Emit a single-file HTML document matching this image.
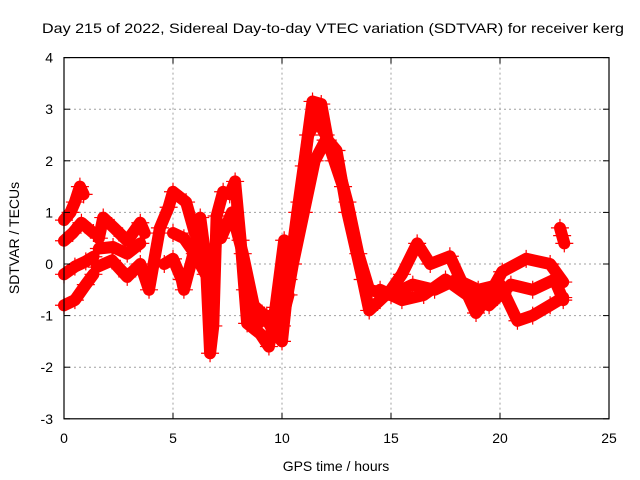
<!DOCTYPE html>
<html><head><meta charset="utf-8"><style>
body{margin:0;background:#fff}
svg{display:block;font-family:"Liberation Sans",sans-serif}
</style></head><body>
<svg id="chart" width="640" height="480" viewBox="0 0 640 480">
<rect width="640" height="480" fill="#fff"/>
<text x="333" y="33" font-size="14" text-anchor="middle" textLength="582" lengthAdjust="spacingAndGlyphs">Day 215 of 2022, Sidereal Day-to-day VTEC variation (SDTVAR) for receiver kerg</text>
<g id="grid"></g>
<g id="series"></g>
<g id="axes"></g>
<text x="336" y="471" font-size="14" text-anchor="middle">GPS time / hours</text>
<text transform="translate(19,238) rotate(-90)" font-size="14" text-anchor="middle">SDTVAR / TECUs</text>
</svg>
<script>
const xTicks=[0,5,10,15,20,25];
const yTicks=[-3,-2,-1,0,1,2,3,4];
const t1=[0,0.3,0.5,0.73,0.9], v1=[0.85,1.0,1.2,1.5,1.35];
const t2=[0,0.4,0.8,1.35], v2=[0.45,0.6,0.8,0.6];
const t3=[0,0.5,1.0,1.35], v3=[-0.2,-0.05,0.05,0.14];
const t4=[0,0.5,1.0,1.35], v4=[-0.8,-0.7,-0.4,-0.2];
const t5=[1.6,1.8,2.3,2.9,3.5,3.7], v5=[0.5,0.9,0.7,0.45,0.8,0.6];
const t6=[1.6,2.25,2.9,3.5], v6=[0.3,0.33,0.2,0.4];
const t7=[1.5,2.2,2.9,3.5,3.9,4.4,4.8,5.0,5.6,6.0], v7=[-0.06,0.07,-0.25,0.0,-0.5,0.7,1.1,1.4,1.2,0.6];
const t8=[4.6,5.0,5.4,5.5,6.0,6.25,6.5,6.7,6.85,7.0,7.3,7.6,7.85,8.1,8.4,9.0,9.4,9.7,10.1];
const v8=[0.0,0.1,-0.3,-0.5,0.3,0.9,0.1,-1.73,-1.2,0.93,1.4,1.35,1.6,0.46,-1.15,-1.35,-1.6,-0.84,0.46];
const t9=[7.2,7.7,8.2,8.7,9.2,9.6,10.0,10.3,10.7,11.0,11.4,11.8,12.1,12.5,13.0,13.7,14.0,14.5,15.0,15.5,16.2,16.8,17.7,18.3,18.9,19.5,20.1,21.2,22.3,22.9];
const v9=[0.5,1.0,0.2,-0.8,-1.0,-1.3,-1.5,-0.3,1.0,1.9,3.15,3.1,2.4,2.2,1.0,-0.3,-0.9,-0.7,-0.5,-0.2,0.4,0.0,0.15,-0.4,-0.95,-0.6,-0.15,0.1,0.0,-0.35];
const t10=[10.0,10.5,11.0,11.5,12.0,12.5,13.0,13.5,14.0,15.0,16.0,17.0,18.0,19.0,20.0,20.8,21.5,22.3,22.9];
const v10=[-1.2,0.0,1.0,2.0,2.4,2.0,1.2,0.2,-0.5,-0.6,-0.4,-0.5,-0.3,-0.5,-0.4,-1.1,-1.0,-0.8,-0.65];
const t11=[14.5,15.5,16.5,17.5,18.5,19.5,20.5,21.5,22.5,22.9], v11=[-0.5,-0.7,-0.6,-0.3,-0.6,-0.8,-0.4,-0.5,-0.3,-0.7];
const t12=[22.75,22.85,22.95], v12=[0.7,0.55,0.4];
const t13=[8.3,8.8,9.3,9.8,10.3], v13=[-0.5,-1.2,-1.0,-1.4,-0.6];
const t14=[10.8,11.2,11.6,12.0,12.4,12.8], v14=[1.2,2.5,2.8,2.5,2.0,1.5];
const t15=[5.0,5.5,6.0,6.5], v15=[0.6,0.5,0.2,-0.2];
const seriesT=[t1,t2,t3,t4,t5,t6,t7,t8,t9,t10,t11,t12,t13,t14,t15];
const seriesV=[v1,v2,v3,v4,v5,v6,v7,v8,v9,v10,v11,v12,v13,v14,v15];

const L=64,R=609,T=57.6,B=418.8;
const X=t=>L+(t-0)/(25-0)*(R-L);
const Y=v=>B-(v+3)/(4+3)*(B-T);
const NS="http://www.w3.org/2000/svg";
function mk(tag,attrs,parent){const e=document.createElementNS(NS,tag);for(const k in attrs)e.setAttribute(k,attrs[k]);parent.appendChild(e);return e;}
const grid=document.getElementById('grid'),axes=document.getElementById('axes'),ser=document.getElementById('series');
xTicks.forEach(t=>{
  if(t>0&&t<25){const g=mk('line',{x1:X(t),x2:X(t),y1:T,y2:B,stroke:'#a0a0a0','stroke-dasharray':'2,3','stroke-width':1},grid);
  
  }
  mk('line',{x1:X(t),x2:X(t),y1:B,y2:B-6,stroke:'#000'},axes);
  mk('line',{x1:X(t),x2:X(t),y1:T,y2:T+6,stroke:'#000'},axes);
  const tx=mk('text',{x:X(t),y:B+24,'font-size':14,'text-anchor':'middle'},axes);
  tx.textContent=t;
  
  
});
yTicks.forEach(v=>{
  if(v>-3&&v<4){const g=mk('line',{x1:L,x2:R,y1:Y(v),y2:Y(v),stroke:'#a0a0a0','stroke-dasharray':'2,3','stroke-width':1},grid);
  
  }
  mk('line',{x1:L,x2:L+6,y1:Y(v),y2:Y(v),stroke:'#000'},axes);
  mk('line',{x1:R,x2:R-6,y1:Y(v),y2:Y(v),stroke:'#000'},axes);
  const tx=mk('text',{x:L-11,y:Y(v)+5,'font-size':14,'text-anchor':'end'},axes);
  tx.textContent=v;
  
  
});
const frame=mk('rect',{x:L,y:T,width:R-L,height:B-T,fill:'none',stroke:'#000','stroke-width':1.2},axes);


seriesT.forEach((ts,i)=>{
  const vs=seriesV[i];
  const pts=ts.map((t,j)=>X(t).toFixed(1)+','+Y(vs[j]).toFixed(1)).join(' ');
  const pl=mk('polyline',{points:pts,fill:'none',stroke:'#ff0000','stroke-width':12,'stroke-linejoin':'round','stroke-linecap':'round'},ser);
  
  
  ts.forEach((t,j)=>{
    const x=X(t),y=Y(vs[j]);
    const p=mk('path',{d:`M${x-9},${y}h18M${x},${y-9}v18`,stroke:'#ff0000','stroke-width':1.2},ser);
    
    
  });
});
</script>
</body></html>
